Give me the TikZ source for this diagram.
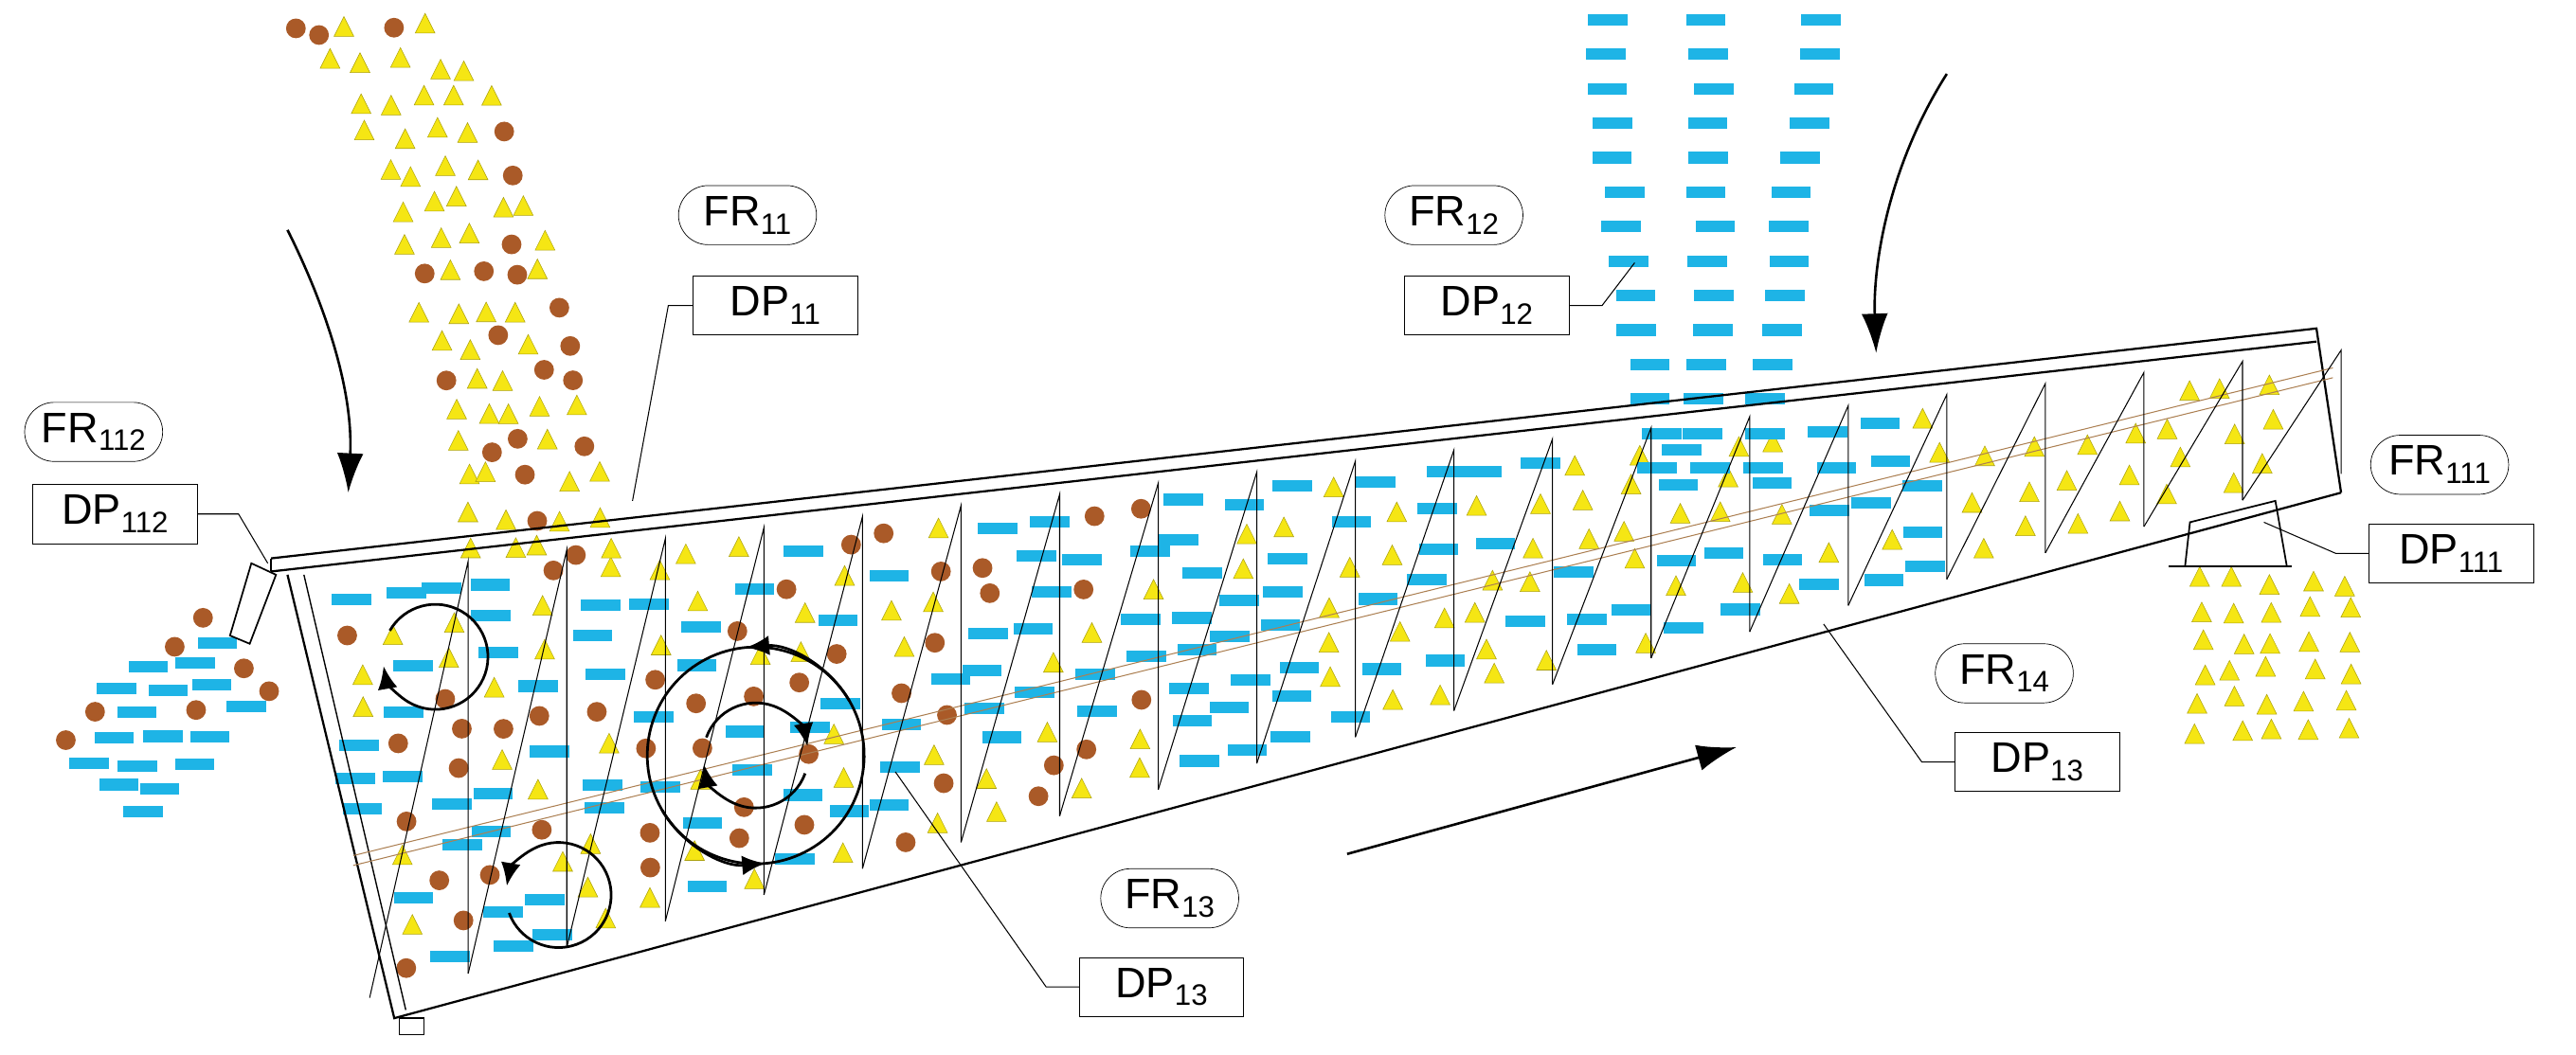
\documentclass[tikz,border=0pt]{standalone}
\usepackage{fontspec}
\setmainfont{Liberation Sans}
\usetikzlibrary{arrows.meta,shapes.misc}
\definecolor{blu}{RGB}{30,180,230}
\definecolor{yel}{RGB}{245,230,20}
\definecolor{brn}{RGB}{170,90,40}
\newcommand\mybar[2]{\fill[blu] (#1-12,#2-3.5) rectangle (#1+12,#2+3.5);}
\newcommand\mytri[2]{\fill[yel,draw=yel!70!black,line width=0.3] (#1,#2-7) -- (#1+6,#2+5) -- (#1-6,#2+5) -- cycle;}
\newcommand\mydot[2]{\fill[brn] (#1,#2) circle (6);}
\begin{document}
\begin{tikzpicture}[x=1pt,y=-1pt,
  lab/.style={draw,font=\fontsize{26}{28}\selectfont,inner sep=3pt,minimum height=36,fill=white},
  fr/.style={lab,rounded rectangle,minimum width=90},
  dp/.style={lab,rectangle,minimum width=100},
  lead/.style={line width=0.6},
  bigar/.style={line width=1.5,-{Latex[length=24,width=16]}},
  rot/.style={line width=1.6,-{Latex[length=14,width=12]}}]
\useasboundingbox (0,0) rectangle (1568,642);
\pgfmathsetseed{7}
% trough particles
\foreach \i in {0,...,39}{
  \pgfmathsetmacro\cx{215+\i*30}
  \pgfmathsetmacro\yt{345-0.1125*(\cx-165)+14}
  \pgfmathsetmacro\yb{min(615-0.267*(\cx-240)-12, 350+(\cx-175)*4.15-10)}
  \pgfmathtruncatemacro\n{max(1,(\yb-\yt)/21)}
  \foreach \j in {1,...,\n}{
    \pgfmathsetmacro\px{\cx+rand*8}
    \pgfmathsetmacro\py{\yt+(\j-0.5)*(\yb-\yt)/\n+rand*4}
    \pgfmathsetmacro\r{rnd}
    \pgfmathtruncatemacro\t{\cx<700 ? (\r<0.42?0:(\r<0.74?1:2)) : (\cx<1180 ? (\r<0.55?0:1) : (\py>\yb-75?1:3))}
    \ifcase\t \mybar{\px}{\py}\or \mytri{\px}{\py}\or \mydot{\px}{\py}\or\fi
  }
}
% top-left stream
\foreach \k in {0,...,15}{
  \pgfmathsetmacro\yy{20+\k*21}
  \pgfmathsetmacro\cc{215+115*sqrt((\yy-20)/320)}
  \foreach \m in {-2,...,2}{
    \pgfmathsetmacro\px{\cc+\m*20+rand*6}
    \pgfmathsetmacro\py{\yy+rand*5}
    \pgfmathsetmacro\r{rnd}
    \pgfmathtruncatemacro\t{\r<0.72?1:2}
    \ifcase\t\or \mytri{\px}{\py}\or \mydot{\px}{\py}\fi
  }
}
% top blue stream
\foreach \k in {0,...,13}{
  \pgfmathsetmacro\py{12+\k*21}
  \foreach \m in {-1,0,1}{
    \pgfmathsetmacro\px{1040+\m*(24+14*(3-\k/5))+rand*5}
    \mybar{\px}{\py}
  }
}
% left outlet stream
\foreach \k in {0,...,5}{
  \foreach \m in {-1,0,1,2}{
    \pgfmathsetmacro\px{135-\k*16+\m*14+rand*5}
    \pgfmathsetmacro\py{390+\k*15+\m*14+rand*3}
    \pgfmathsetmacro\r{rnd}
    \pgfmathtruncatemacro\t{\r<0.65?0:2}
    \ifcase\t \mybar{\px}{\py}\or\or \mydot{\px}{\py}\fi
  }
}
% right outlet stream
\foreach \k in {0,...,5}{
  \foreach \m in {0,...,4}{
    \pgfmathsetmacro\px{1340+\m*22+rand*5}
    \pgfmathsetmacro\py{355+\k*18+rand*3}
    \mytri{\px}{\py}
  }
}
% trough
\draw[line width=1.3] (165,340) -- (1410,200) -- (1425,300);
\draw[line width=1.3] (165,348) -- (1410,208);
\draw[line width=0.8] (165,340) -- (165,348);
\draw[line width=1.3] (175,350) -- (240,620) -- (1425,300);
\draw[line width=0.8] (185,350) -- (247,615);
\draw[line width=1] (243,620) rectangle (258,630);
% inlet pipe
\draw[line width=1,fill=white] (153,343) -- (168,350) -- (152,392) -- (140,387) -- cycle;
% outlet box
\draw[line width=1.2] (1320,345) -- (1395,345);
\draw[line width=1] (1330,345) -- (1333,318) -- (1385,305) -- (1392,345);
% shaft
\draw[line width=0.6,brown!70!gray] (215,521) -- (1420,224);
\draw[line width=0.6,brown!70!gray] (215,527) -- (1420,230);
% flights
\foreach \k in {0,...,19}{
  \pgfmathsetmacro\xa{225+\k*60}
  \pgfmathsetmacro\xb{225+(\k+1)*60}
  \pgfmathsetmacro\ta{345-0.1125*(\xa-165)+10}
  \pgfmathsetmacro\tb{345-0.1125*(\xb-165)+10}
  \pgfmathsetmacro\ba{min(615-0.267*(\xa-240)-10, 525-0.2465*(\xa-215)+85)}
  \pgfmathsetmacro\bb{min(615-0.267*(\xb-240)-10, 525-0.2465*(\xb-215)+85)}
  \draw[line width=0.6] (\xa,\ba) -- (\xb,\tb) -- (\xb,\bb);
}
% rotation arrows
\draw[rot] (265,400) ++(-150:32) arc[start angle=-150,end angle=170,radius=32];
\draw[rot] (340,545) ++(160:32) arc[start angle=160,end angle=-170,radius=32];
\draw[rot] (460,460) ++(-30:66) arc[start angle=-30,end angle=-275,radius=66];
\draw[rot] (460,460) ++(150:66) arc[start angle=150,end angle=-95,radius=66];
\draw[rot] (460,460) ++(20:32) arc[start angle=20,end angle=170,radius=32];
\draw[rot] (460,460) ++(200:32) arc[start angle=200,end angle=350,radius=32];
% big arrows
\draw[bigar] (175,140) .. controls (200,190) and (215,240) .. (212,300);
\draw[bigar] (1185,45) .. controls (1150,100) and (1140,160) .. (1142,215);
\draw[bigar] (820,520) -- (1057,455);
% labels
\node[fr] (fr11) at (455,131) {FR{\fontsize{18}{18}\selectfont\raisebox{-5pt}{11}}};
\node[dp] (dp11) at (472,186) {DP{\fontsize{18}{18}\selectfont\raisebox{-5pt}{11}}};
\node[fr] (fr12) at (885,131) {FR{\fontsize{18}{18}\selectfont\raisebox{-5pt}{12}}};
\node[dp] (dp12) at (905,186) {DP{\fontsize{18}{18}\selectfont\raisebox{-5pt}{12}}};
\node[fr] (fr112) at (57,263) {FR{\fontsize{18}{18}\selectfont\raisebox{-5pt}{112}}};
\node[dp] (dp112) at (70,313) {DP{\fontsize{18}{18}\selectfont\raisebox{-5pt}{112}}};
\node[fr] (fr111) at (1485,283) {FR{\fontsize{18}{18}\selectfont\raisebox{-5pt}{111}}};
\node[dp] (dp111) at (1492,337) {DP{\fontsize{18}{18}\selectfont\raisebox{-5pt}{111}}};
\node[fr] (fr14) at (1220,410) {FR{\fontsize{18}{18}\selectfont\raisebox{-5pt}{14}}};
\node[dp] (dp13a) at (1240,464) {DP{\fontsize{18}{18}\selectfont\raisebox{-5pt}{13}}};
\node[fr] (fr13) at (712,547) {FR{\fontsize{18}{18}\selectfont\raisebox{-5pt}{13}}};
\node[dp] (dp13b) at (707,601) {DP{\fontsize{18}{18}\selectfont\raisebox{-5pt}{13}}};
% leaders
\coordinate (e11) at (385,305);
\coordinate (e12) at (995,160);
\coordinate (e112) at (163,343);
\coordinate (e111) at (1378,318);
\coordinate (e13a) at (1110,380);
\coordinate (e13b) at (545,470);
\draw[lead] (dp11.west) -- ++(-15,0) -- (e11);
\draw[lead] (dp12.east) -- ++(20,0) -- (e12);
\draw[lead] (dp112.east) -- ++(25,0) -- (e112);
\draw[lead] (dp111.west) -- ++(-20,0) -- (e111);
\draw[lead] (dp13a.west) -- ++(-20,0) -- (e13a);
\draw[lead] (dp13b.west) -- ++(-20,0) -- (e13b);
\end{tikzpicture}
\end{document}
